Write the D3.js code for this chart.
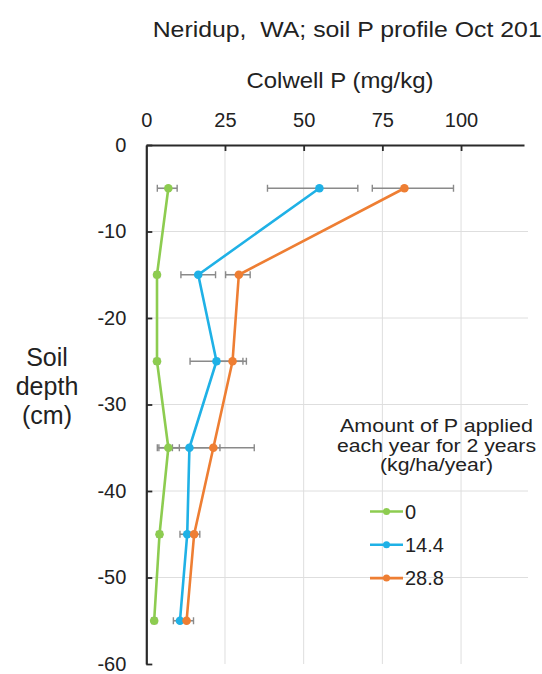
<!DOCTYPE html>
<html>
<head>
<meta charset="utf-8">
<script src="https://cdn.jsdelivr.net/npm/d3@7"></script>
<style>
  html, body { margin: 0; padding: 0; background: #fff; overflow: hidden; }
  svg { display: block; font-family: "Liberation Sans", Arial, Helvetica, sans-serif; }
  text { white-space: pre; }
</style>
</head>
<body>
<svg id="chart" width="542" height="674"></svg>
<script>
// ---- data ----
const depths = [-5, -15, -25, -35, -45, -55];
const seriesNames = ["0", "14.4", "28.8"];
const p0   = [7.0, 3.4, 3.4, 7.0, 4.2, 2.5];
const p144 = [55.0, 16.5, 22.3, 13.7, 13.0, 10.7];
const p288 = [82.0, 29.4, 27.4, 21.3, 15.2, 12.8];
const p0Low    = [3.5, 2.6, 2.6, 3.5, 3.4, 1.7];
const p0High   = [9.8, 4.2, 4.2, 10.5, 5.0, 3.3];
const p144Low  = [38.5, 11.0, 13.9, 4.0, 10.7, 8.6];
const p144High = [67.2, 22.0, 30.7, 23.4, 15.3, 12.8];
const p288Low  = [71.8, 25.2, 23.0, 8.3, 13.4, 10.6];
const p288High = [97.6, 33.0, 31.8, 34.3, 17.0, 15.0];
const xTicks = [0, 25, 50, 75, 100];
const yTicks = [0, -10, -20, -30, -40, -50, -60];
const titleText = "Neridup,  WA; soil P profile Oct 2017";
const xTitle = "Colwell P (mg/kg)";
const yTitleLines = ["Soil", "depth", "(cm)"];
const legendTitleLines = ["Amount of P applied", "each year for 2 years", "(kg/ha/year)"];
const colors = ["#8dcc50", "#1fb1e6", "#ee7e33"];

const series = [
  { name: seriesNames[0], vals: p0,   lo: p0Low,   hi: p0High,   color: colors[0] },
  { name: seriesNames[1], vals: p144, lo: p144Low, hi: p144High, color: colors[1] },
  { name: seriesNames[2], vals: p288, lo: p288Low, hi: p288High, color: colors[2] }
];

// ---- layout ----
const svg = d3.select("#chart");
const L = 146.3, R = 524, T = 145, B = 664;
const x = d3.scaleLinear().domain([0, 120]).range([L, R]);
const y = d3.scaleLinear().domain([0, -60]).range([T, B]);

function fit(sel, w) {
  sel.attr("textLength", w).attr("lengthAdjust", "spacingAndGlyphs");
}

// gridlines
svg.append("g").selectAll("line.vg")
  .data(xTicks.filter(d => d > 0)).join("line")
  .attr("x1", d => x(d)).attr("x2", d => x(d))
  .attr("y1", T).attr("y2", B)
  .attr("stroke", "#dedede").attr("stroke-width", 1);
svg.append("g").selectAll("line.hg")
  .data(yTicks.filter(d => d < 0 && d > -60)).join("line")
  .attr("x1", L).attr("x2", R + 4)
  .attr("y1", d => y(d)).attr("y2", d => y(d))
  .attr("stroke", "#dedede").attr("stroke-width", 1);

// axes
const xAxis = d3.axisTop(x).tickValues(xTicks).tickSizeInner(-6).tickSizeOuter(0)
  .tickPadding(18.5).tickFormat(d => String(d));
const gx = svg.append("g").attr("transform", `translate(0,${T})`).call(xAxis);
gx.select(".domain").attr("stroke", "#2a2a2a").attr("stroke-width", 2.2);
gx.selectAll(".tick line").attr("stroke", "#2a2a2a").attr("stroke-width", 1.8)
  .filter(d => d === 0).remove();
gx.selectAll(".tick text").attr("font-size", 20).attr("fill", "#222")
  .attr("font-family", "Liberation Sans, Arial, sans-serif");

const yAxis = d3.axisLeft(y).tickValues(yTicks).tickSizeInner(-6).tickSizeOuter(0)
  .tickPadding(20).tickFormat(d => String(d));
const gy = svg.append("g").attr("transform", `translate(${L},0)`).call(yAxis);
gy.select(".domain").attr("stroke", "#2a2a2a").attr("stroke-width", 2.2);
gy.selectAll(".tick line").attr("stroke", "#2a2a2a").attr("stroke-width", 1.8);
gy.selectAll(".tick text").attr("font-size", 20).attr("fill", "#222")
  .attr("font-family", "Liberation Sans, Arial, sans-serif");

// error bars
const eg = svg.append("g");
series.forEach(s => {
  depths.forEach((d, i) => {
    const yy = y(d);
    eg.append("line").attr("x1", x(s.lo[i])).attr("x2", x(s.hi[i]))
      .attr("y1", yy).attr("y2", yy).attr("stroke", "#8a8a8a").attr("stroke-width", 1.6);
    [s.lo[i], s.hi[i]].forEach(v => {
      eg.append("line").attr("x1", x(v)).attr("x2", x(v))
        .attr("y1", yy - 3.5).attr("y2", yy + 3.5)
        .attr("stroke", "#8a8a8a").attr("stroke-width", 1.4);
    });
  });
});

// lines and markers
const line = d3.line().x(d => x(d[0])).y(d => y(d[1]));
series.forEach(s => {
  const pts = s.vals.map((v, i) => [v, depths[i]]);
  svg.append("path").datum(pts).attr("d", line)
    .attr("fill", "none").attr("stroke", s.color).attr("stroke-width", 2.6)
    .attr("stroke-linejoin", "round");
  svg.append("g").selectAll("circle").data(pts).join("circle")
    .attr("cx", d => x(d[0])).attr("cy", d => y(d[1])).attr("r", 4.3)
    .attr("fill", s.color);
});

// title
svg.append("text").attr("x", 152.7).attr("y", 37)
  .attr("font-size", 22.5).attr("fill", "#222").text(titleText)
  .call(sel => {
    const node = sel.node();
    const full = node.getComputedTextLength();
    const pre = node.getSubStringLength(0, titleText.length - 1);
    fit(sel, full * 389 / pre);
  });

// x axis title
svg.append("text").attr("x", 340).attr("y", 88.3).attr("text-anchor", "middle")
  .attr("font-size", 22.5).attr("fill", "#222").text(xTitle).call(fit, 187);

// y axis title
svg.append("g").selectAll("text").data(yTitleLines).join("text")
  .attr("x", 47).attr("y", (d, i) => 366 + i * 29).attr("text-anchor", "middle")
  .attr("font-size", 25).attr("fill", "#222").text(d => d);

// legend
const lg = svg.append("g");
lg.selectAll("text.lt").data(legendTitleLines).join("text")
  .attr("x", 436.5).attr("y", (d, i) => 432 + i * 19.6).attr("text-anchor", "middle")
  .attr("font-size", 17.5).attr("fill", "#222").text(d => d)
  .each(function(d, i) { fit(d3.select(this), [193, 199, 113][i]); });

series.forEach((s, i) => {
  const yy = 511.5 + i * 33.3;
  lg.append("line").attr("x1", 370).attr("x2", 403).attr("y1", yy).attr("y2", yy)
    .attr("stroke", s.color).attr("stroke-width", 2.6);
  lg.append("circle").attr("cx", 386.5).attr("cy", yy).attr("r", 3.5).attr("fill", s.color);
  lg.append("text").attr("x", 405).attr("y", yy + 7).attr("font-size", 20)
    .attr("fill", "#222").text(s.name);
});
</script>
</body>
</html>
